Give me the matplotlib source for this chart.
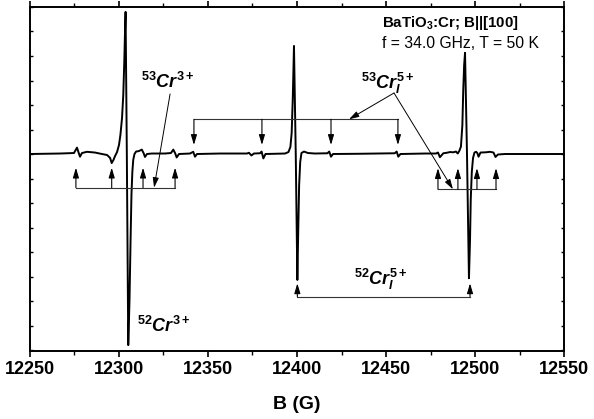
import matplotlib
matplotlib.use('Agg')
import matplotlib.pyplot as plt
from matplotlib.ticker import MultipleLocator, NullFormatter

plt.rcParams['font.family'] = ['Liberation Sans', 'DejaVu Sans']
plt.rcParams['mathtext.fontset'] = 'custom'
plt.rcParams['mathtext.rm'] = 'Liberation Sans:bold'
plt.rcParams['mathtext.it'] = 'Liberation Sans:italic:bold'
plt.rcParams['mathtext.bf'] = 'Liberation Sans:bold'

# ---- spectrum (field in G, signal in arb. units) ----
field = [
    12250.0, 12266.9, 12274.7, 12276.4, 12277.2, 12278.1, 12279.2, 12282.0, 12286.5, 12290.4,
    12293.3, 12295.0, 12295.9, 12296.9, 12297.8, 12298.9, 12300.0, 12300.8, 12301.7, 12302.4,
    12303.0, 12303.4, 12303.7, 12304.4, 12305.2, 12305.9, 12306.5, 12307.0, 12307.5, 12308.0,
    12308.7, 12309.6, 12311.2, 12312.8, 12313.8, 12314.6, 12315.7, 12318.5, 12325.8, 12329.2,
    12330.5, 12331.5, 12332.4, 12333.7, 12339.9, 12341.7, 12342.7, 12343.8, 12356.7, 12371.9,
    12373.0, 12374.4, 12375.8, 12379.2, 12380.1, 12381.1, 12382.3, 12393.3,
    12395.2, 12396.3, 12397.0, 12397.6, 12398.0, 12398.3, 12399.3, 12400.2, 12400.7, 12401.2,
    12401.8, 12402.5, 12403.9, 12406.2, 12410.1,
    12417.1, 12418.1, 12419.1, 12420.2, 12435.4, 12454.9, 12456.0, 12456.9, 12458.1, 12471.9,
    12478.1, 12479.2, 12480.3, 12482.2, 12484.1, 12486.0, 12487.8, 12489.3, 12490.3, 12491.2,
    12492.1, 12492.9, 12493.4, 12493.9, 12494.4, 12495.5, 12496.6, 12497.2, 12497.6, 12498.2,
    12498.9, 12499.7, 12500.6, 12501.3, 12502.0, 12503.1, 12506.2, 12508.4, 12510.4, 12511.5,
    12512.9, 12516.9, 12550.0,
]
signal = [
    0.00, 0.02, 0.04, 0.26, 0.08, -0.11, 0.04, 0.09, 0.06, 0.00,
    -0.04, -0.16, -0.37, -0.24, -0.08, 0.08, 0.37, 0.78, 1.47, 2.41,
    3.84, 5.06, 5.80, 0.00, -7.80, -5.96, -3.51, -1.67, -0.73, -0.24,
    0.00, 0.10, 0.12, 0.18, 0.04, -0.12, 0.00, 0.02, 0.02, 0.04,
    0.18, 0.04, -0.14, 0.00, 0.02, 0.09, -0.11, 0.00, 0.02, 0.02,
    0.05, -0.06, 0.02, 0.03, 0.10, -0.18, 0.00, 0.02,
    0.08, 0.29, 0.86, 2.20, 3.43, 4.41, 0.00, -5.14, -3.10, -1.27,
    -0.33, 0.04, 0.10, 0.04, 0.02,
    0.03, 0.10, -0.11, 0.00, 0.01, 0.03, 0.10, -0.11, 0.00, 0.02,
    0.02, 0.06, -0.13, 0.03, 0.05, 0.08, 0.07, 0.10, 0.02, 0.13,
    0.30, 1.18, 2.61, 3.63, 4.13, 0.00, -5.07, -3.51, -1.88, -0.73,
    -0.16, 0.06, 0.09, 0.04, -0.11, 0.06, 0.07, 0.09, 0.06, -0.12,
    -0.02, 0.00, 0.00,
]

# hyperfine / line positions marked by arrows (G)
cr53_3plus_lines = [12275.8, 12295.9, 12313.5, 12331.5]
cr53_5plus_lines_a = [12342.1, 12380.3, 12419.1, 12456.7]
cr53_5plus_lines_b = [12479.2, 12490.4, 12501.1, 12511.8]
cr52_5plus_lines = [12400.2, 12497.2]

x_ticks = [12250, 12300, 12350, 12400, 12450, 12500, 12550]
x_label = 'B (G)'
title_line1 = r'BaTiO$_3$:Cr; B||[100]'
title_line2 = 'f = 34.0 GHz, T = 50 K'
lbl_53cr3 = r'$\mathit{^{53}Cr^{3+}}$'
lbl_52cr3 = r'$\mathit{^{52}Cr^{3+}}$'
lbl_53cr5 = r'$\mathit{^{53}Cr_{I}^{5+}}$'
lbl_52cr5 = r'$\mathit{^{52}Cr_{I}^{5+}}$'

fig = plt.figure(figsize=(5.94, 4.19), dpi=100)
ax = fig.add_axes([0.0505, 0.1623, 0.899, 0.821])

ax.plot(field, signal, color='black', lw=1.4, solid_joinstyle='round')

ax.set_xlim(12250, 12550)
ax.set_ylim(-8.04, 6.0)
ax.set_xticks(x_ticks)
ax.xaxis.set_minor_locator(MultipleLocator(25))
ax.yaxis.set_major_locator(MultipleLocator(1))
ax.yaxis.set_major_formatter(NullFormatter())

for s in ax.spines.values():
    s.set_linewidth(1.4)

ax.tick_params(axis='x', which='major', direction='out', length=4.5, width=1.2,
               labelsize=13, pad=3, top=True)
ax.tick_params(axis='x', which='minor', direction='out', length=3, width=1.0, top=True)
ax.tick_params(axis='y', which='major', direction='in', length=2.5, width=1.0,
               left=True, right=True, labelleft=False)
for lab in ax.get_xticklabels():
    lab.set_fontweight('bold')
ax.set_xlabel(x_label, fontsize=14, fontweight='bold', labelpad=13)

head = '-|>,head_length=0.6,head_width=0.18'


def bracket(xs, y_bar, y_tip):
    ax.plot([xs[0], xs[-1]], [y_bar, y_bar], color='#333333', lw=0.8)
    for x in xs:
        ax.annotate('', xy=(x, y_tip), xytext=(x, y_bar),
                    arrowprops=dict(arrowstyle=head, color='black', lw=0.8,
                                    shrinkA=0, shrinkB=0, mutation_scale=10))


bracket(cr53_3plus_lines, -1.375, -0.56)
bracket(cr53_5plus_lines_a, 1.416, 0.37)
bracket(cr53_5plus_lines_b, -1.44, -0.58)
bracket(cr52_5plus_lines, -5.82, -5.28)


def pointer(x0, y0, x1, y1):
    ax.annotate('', xy=(x1, y1), xytext=(x0, y0),
                arrowprops=dict(arrowstyle=head, color='black', lw=0.7,
                                shrinkA=0, shrinkB=0, mutation_scale=10))


pointer(12328.7, 2.45, 12319.7, -1.375)
pointer(12454.5, 2.49, 12429.2, 1.416)
pointer(12454.5, 2.49, 12487.6, -1.44)

ax.text(12327.2, 2.94, lbl_53cr3, fontsize=13, ha='center', va='center')
ax.text(12325.3, -7.02, lbl_52cr3, fontsize=13, ha='center', va='center')
ax.text(12450.8, 2.90, lbl_53cr5, fontsize=13, ha='center', va='center')
ax.text(12447.2, -5.10, lbl_52cr5, fontsize=13, ha='center', va='center')

ax.text(12447.8, 5.18, title_line1, fontsize=10.8, fontweight='bold', ha='left', va='baseline')
ax.text(12447.8, 4.33, title_line2, fontsize=11.3, ha='left', va='baseline')

fig.savefig('out.png', dpi=100)
